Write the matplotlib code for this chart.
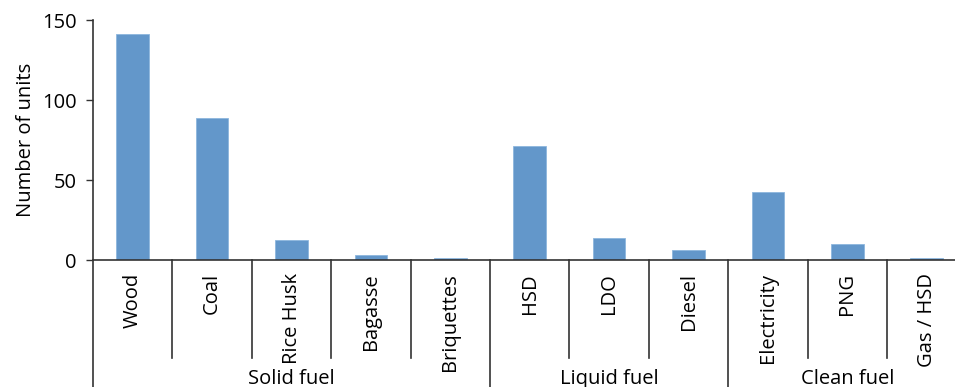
import matplotlib.pyplot as plt
import matplotlib.transforms as mtransforms

plt.rcParams['font.family'] = ['Open Sans', 'DejaVu Sans']

fuels = ['Wood', 'Coal', 'Rice Husk', 'Bagasse', 'Briquettes',
         'HSD', 'LDO', 'Diesel',
         'Electricity', 'PNG', 'Gas / HSD']
units = [141, 89, 12.5, 3, 1, 71, 14, 6, 42.5, 10, 1]
groups = ['Solid fuel', 'Liquid fuel', 'Clean fuel']
group_sizes = [5, 3, 3]

line_col = '#333333'
bar_col = '#6397ca'
fs = 14.5

fig = plt.figure(figsize=(9.55, 3.87), dpi=100)
ax = fig.add_axes([93 / 955, 127 / 387, 862 / 955, 240 / 387])

x = list(range(len(fuels)))
ax.bar(x, units, width=0.41, color=bar_col, edgecolor='#8db6de', linewidth=0.6)

ax.set_xlim(-0.5, -0.5 + 862 / 79.4)
ax.set_ylim(0, 150)
ax.set_yticks([0, 50, 100, 150])
ax.tick_params(axis='y', labelsize=fs, length=5, width=1, color=line_col, pad=7)
ax.set_xticks([])
for s in ['top', 'right']:
    ax.spines[s].set_visible(False)
for s in ['left', 'bottom']:
    ax.spines[s].set_color(line_col)
    ax.spines[s].set_linewidth(1.2)
ax.set_ylabel('Number of units', fontsize=fs, labelpad=4)

trans = mtransforms.blended_transform_factory(ax.transData, ax.transAxes)

# category labels
for i, name in enumerate(fuels):
    ax.text(i, -0.055, name, rotation=90, ha='center', va='top',
            fontsize=fs, transform=trans)

# dividers between categories and groups
bounds = [0]
for n in group_sizes:
    bounds.append(bounds[-1] + n)
for i in range(len(fuels)):
    xpos = i - 0.5
    if i in bounds:
        y_end = -0.54
    else:
        y_end = -0.41
    ax.plot([xpos, xpos], [0, y_end], color=line_col, lw=1.2,
            transform=trans, clip_on=False)

# group labels
for g, name in enumerate(groups):
    center = (bounds[g] + bounds[g + 1]) / 2 - 0.5
    ax.text(center, -0.495, name, ha='center', va='center',
            fontsize=fs, transform=trans)

fig.savefig('out.png', dpi=100)
